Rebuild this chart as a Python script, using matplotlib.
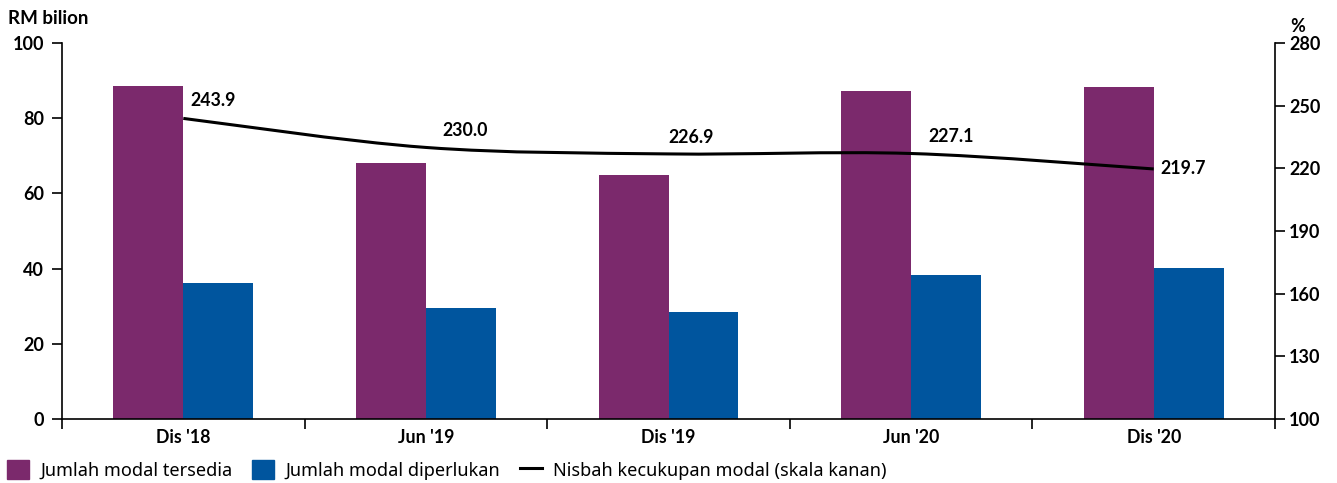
import matplotlib
matplotlib.use("Agg")
import matplotlib.pyplot as plt
from matplotlib.path import Path
from matplotlib.patches import PathPatch
from matplotlib.lines import Line2D
from matplotlib.patches import Patch
import numpy as np

plt.rcParams['font.family'] = ['Lato', 'DejaVu Sans']

categories = ["Dis '18", "Jun '19", "Dis '19", "Jun '20", "Dis '20"]
modal_tersedia = [88.6, 68.1, 64.9, 87.2, 88.3]
modal_diperlukan = [36.2, 29.5, 28.5, 38.3, 40.2]
nisbah = [243.9, 230.0, 226.9, 227.1, 219.7]
left_ticks = [0, 20, 40, 60, 80, 100]
right_ticks = [100, 130, 160, 190, 220, 250, 280]

purple = '#7B296C'
blue = '#00559E'

fig = plt.figure(figsize=(13.37, 4.83), dpi=100)
ax = fig.add_axes([62/1337, 1-419/483, (1275-62)/1337, (419-43)/483])
ax2 = ax.twinx()

x = np.arange(len(categories))
w = 0.288
ax.bar(x - w/2, modal_tersedia, width=w, color=purple, zorder=2)
ax.bar(x + w/2, modal_diperlukan, width=w, color=blue, zorder=2)

ax.set_xlim(-0.5, len(categories) - 0.5)
ax.set_ylim(0, 100)
ax2.set_ylim(100, 280)

# smooth line through points (Catmull-Rom -> Bezier)
pts = np.column_stack([x, nisbah]).astype(float)
verts = [tuple(pts[0])]
codes = [Path.MOVETO]
t = 1/6
for i in range(len(pts) - 1):
    p0 = pts[i-1] if i > 0 else pts[i]
    p1 = pts[i]
    p2 = pts[i+1]
    p3 = pts[i+2] if i + 2 < len(pts) else pts[i+1]
    c1 = p1 + (p2 - p0) * t
    c2 = p2 - (p3 - p1) * t
    verts += [tuple(c1), tuple(c2), tuple(p2)]
    codes += [Path.CURVE4] * 3
ax2.add_patch(PathPatch(Path(verts, codes), fill=False, lw=2.2, edgecolor='black', zorder=3,
                        capstyle='butt'))

offsets = [(5, 7, 'left'), (28, 6, 'center'), (16, 6, 'center'), (29, 6, 'center'), (5, 0, 'left')]
for xi, v, (dx, dy, ha) in zip(x, nisbah, offsets):
    ax2.annotate(f"{v:.1f}", (xi, v), xytext=(dx, dy), textcoords='offset points',
                 ha=ha, va='center' if dy == 0 else 'bottom', fontsize=12.8, fontweight='bold')

# spines
for a in (ax, ax2):
    a.spines['top'].set_visible(False)
ax.spines['right'].set_visible(False)
ax2.spines['left'].set_visible(False)
for s in ['left', 'bottom']:
    ax.spines[s].set_linewidth(1.2)
ax2.spines['right'].set_linewidth(1.2)
ax2.spines['bottom'].set_visible(False)

ax.set_yticks(left_ticks)
ax.set_yticklabels([str(v) for v in left_ticks], fontsize=13, fontweight='bold')
ax.tick_params(axis='y', length=7, width=1.2, pad=6)
ax2.set_yticks(right_ticks)
ax2.set_yticklabels([str(v) for v in right_ticks], fontsize=13, fontweight='bold')
ax2.tick_params(axis='y', length=7, width=1.2, pad=3)

ax.set_xticks(np.arange(-0.5, len(categories), 1.0))
ax.set_xticklabels([])
ax.tick_params(axis='x', length=7, width=1.2)
ax.set_xticks(x, minor=True)
ax.set_xticklabels(categories, minor=True, fontsize=12.8, fontweight='bold')
ax.tick_params(axis='x', which='minor', length=0, pad=7)

fig.text(8/1337, 1-18/483, 'RM bilion', fontsize=13.5, fontweight='bold', ha='left', va='center')
fig.text(1298/1337, 1-26/483, '%', fontsize=13, fontweight='bold', ha='center', va='center')

handles = [Patch(color=purple), Patch(color=blue), Line2D([0], [0], color='black', lw=2.2)]
labels = ['Jumlah modal tersedia', 'Jumlah modal diperlukan', 'Nisbah kecukupan modal (skala kanan)']
leg = fig.legend(handles, labels, loc='center left', bbox_to_anchor=(0.0, 1-470/483), ncol=3,
                 frameon=False, handlelength=1.2, handleheight=1.2,
                 handletextpad=0.6, columnspacing=1.1, borderaxespad=0,
                 prop={'family': ['Noto Sans', 'DejaVu Sans'], 'size': 13.1})

fig.savefig('out.png', dpi=100)
